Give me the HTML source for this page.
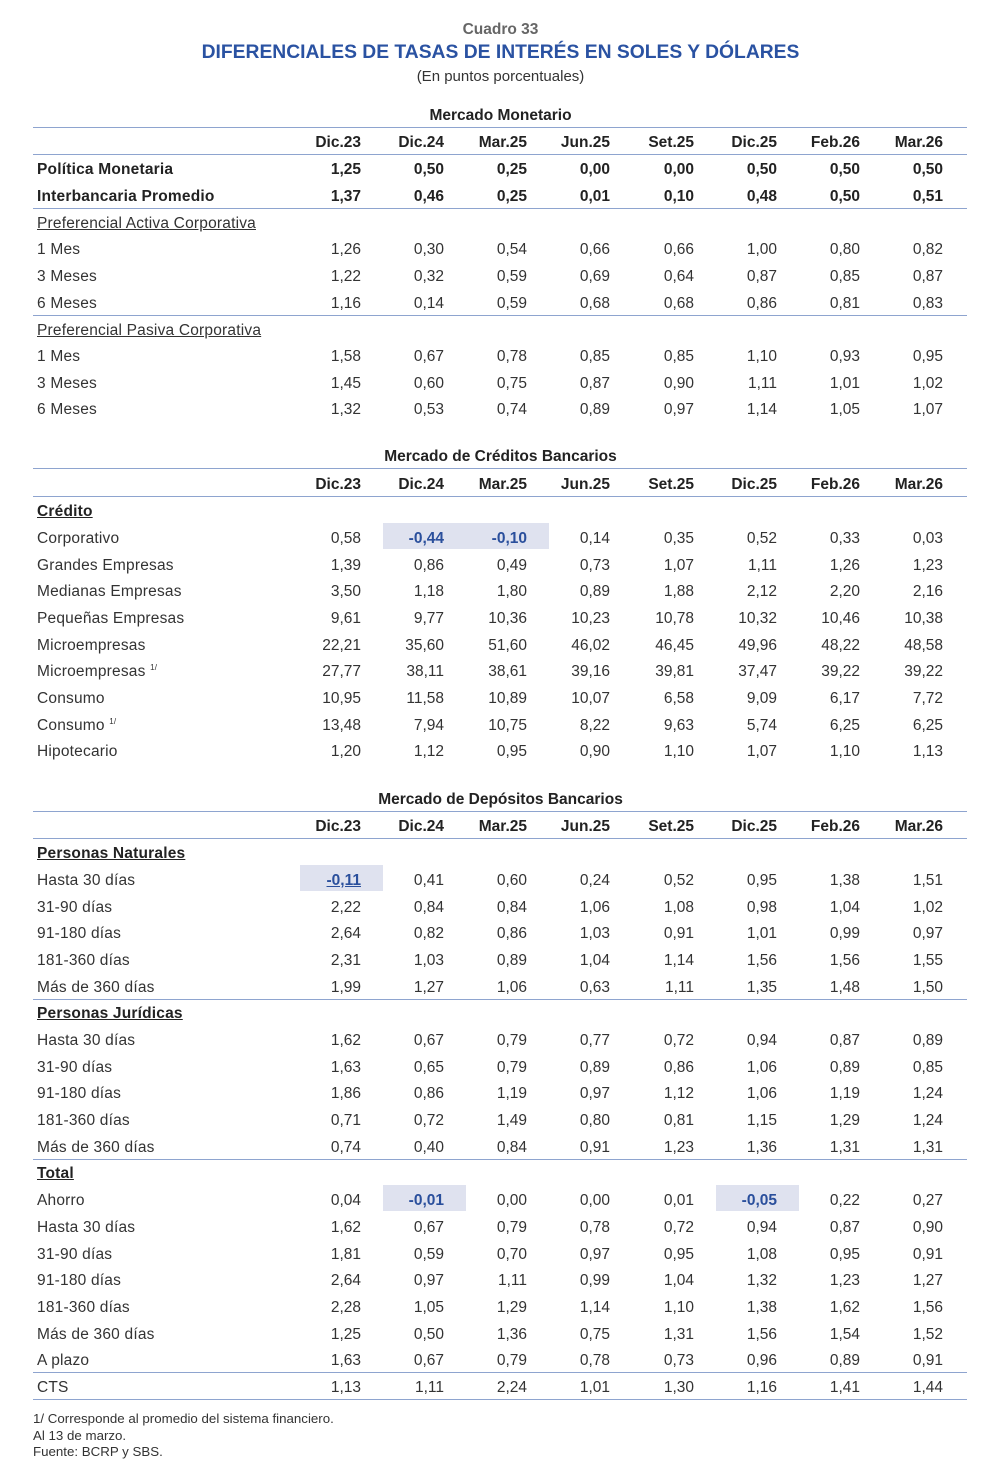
<!DOCTYPE html>
<html><head><meta charset="utf-8"><style>
body{margin:0;background:#fff;width:1001px;height:1484px;position:relative;font-family:"Liberation Sans",sans-serif;color:#333;overflow:hidden}
.t{position:absolute;left:0;width:1001px;text-align:center;margin-top:2px}
.ln{position:absolute;left:33px;width:934px;height:0;border-top:1.3px solid #8ea4cf}
.r{position:absolute;left:33px;width:934px;height:26px;line-height:26px;font-size:15.5px;margin-top:2px}
.r em{position:absolute;left:4px;font-style:normal;white-space:nowrap;letter-spacing:0.2px}
.r span{position:absolute;width:61px;text-align:right;padding-right:22px;height:26px}
.r span:nth-of-type(1){left:267px}.r span:nth-of-type(2){left:350px}.r span:nth-of-type(3){left:433px}.r span:nth-of-type(4){left:516px}
.r span:nth-of-type(5){left:600px}.r span:nth-of-type(6){left:683px}.r span:nth-of-type(7){left:766px}.r span:nth-of-type(8){left:849px}
.r span.h{top:-3px;padding-top:3px;height:23px}
.b{font-weight:bold;color:#222}
.h{background:#dfe2ef;color:#2a4f9c;font-weight:bold}
.u{text-decoration:underline}
sup{font-size:8px;line-height:0;vertical-align:6px}
.f{position:absolute;left:33px;font-size:13.3px;color:#333}
</style></head><body>
<div class="t" style="top:19px;font-size:15.5px;font-weight:bold;color:#666">Cuadro 33</div>
<div class="t" style="top:40px;font-size:19.3px;font-weight:bold;color:#2a52a2">DIFERENCIALES DE TASAS DE INTERÉS EN SOLES Y DÓLARES</div>
<div class="t" style="top:66px;font-size:15px">(En puntos porcentuales)</div>

<div class="t b" style="top:105px;font-size:15.5px">Mercado Monetario</div>
<div class="ln" style="top:127px"></div>
<div class="r b" style="top:128px"><span>Dic.23</span><span>Dic.24</span><span>Mar.25</span><span>Jun.25</span><span>Set.25</span><span>Dic.25</span><span>Feb.26</span><span>Mar.26</span></div>
<div class="ln" style="top:154px"></div>
<div class="r b" style="top:155px"><em>Política Monetaria</em><span>1,25</span><span>0,50</span><span>0,25</span><span>0,00</span><span>0,00</span><span>0,50</span><span>0,50</span><span>0,50</span></div>
<div class="r b" style="top:182px"><em>Interbancaria Promedio</em><span>1,37</span><span>0,46</span><span>0,25</span><span>0,01</span><span>0,10</span><span>0,48</span><span>0,50</span><span>0,51</span></div>
<div class="ln" style="top:208px"></div>
<div class="r" style="top:209px"><em class="u">Preferencial Activa Corporativa</em></div>
<div class="r" style="top:235px"><em>1 Mes</em><span>1,26</span><span>0,30</span><span>0,54</span><span>0,66</span><span>0,66</span><span>1,00</span><span>0,80</span><span>0,82</span></div>
<div class="r" style="top:262px"><em>3 Meses</em><span>1,22</span><span>0,32</span><span>0,59</span><span>0,69</span><span>0,64</span><span>0,87</span><span>0,85</span><span>0,87</span></div>
<div class="r" style="top:289px"><em>6 Meses</em><span>1,16</span><span>0,14</span><span>0,59</span><span>0,68</span><span>0,68</span><span>0,86</span><span>0,81</span><span>0,83</span></div>
<div class="ln" style="top:315px"></div>
<div class="r" style="top:316px"><em class="u">Preferencial Pasiva Corporativa</em></div>
<div class="r" style="top:342px"><em>1 Mes</em><span>1,58</span><span>0,67</span><span>0,78</span><span>0,85</span><span>0,85</span><span>1,10</span><span>0,93</span><span>0,95</span></div>
<div class="r" style="top:369px"><em>3 Meses</em><span>1,45</span><span>0,60</span><span>0,75</span><span>0,87</span><span>0,90</span><span>1,11</span><span>1,01</span><span>1,02</span></div>
<div class="r" style="top:395px"><em>6 Meses</em><span>1,32</span><span>0,53</span><span>0,74</span><span>0,89</span><span>0,97</span><span>1,14</span><span>1,05</span><span>1,07</span></div>

<div class="t b" style="top:446px;font-size:15.5px">Mercado de Créditos Bancarios</div>
<div class="ln" style="top:468px"></div>
<div class="r b" style="top:470px"><span>Dic.23</span><span>Dic.24</span><span>Mar.25</span><span>Jun.25</span><span>Set.25</span><span>Dic.25</span><span>Feb.26</span><span>Mar.26</span></div>
<div class="ln" style="top:496px"></div>
<div class="r b" style="top:497px"><em class="u">Crédito</em></div>
<div class="r" style="top:524px"><em>Corporativo</em><span>0,58</span><span class="h">-0,44</span><span class="h">-0,10</span><span>0,14</span><span>0,35</span><span>0,52</span><span>0,33</span><span>0,03</span></div>
<div class="r" style="top:551px"><em>Grandes Empresas</em><span>1,39</span><span>0,86</span><span>0,49</span><span>0,73</span><span>1,07</span><span>1,11</span><span>1,26</span><span>1,23</span></div>
<div class="r" style="top:577px"><em>Medianas Empresas</em><span>3,50</span><span>1,18</span><span>1,80</span><span>0,89</span><span>1,88</span><span>2,12</span><span>2,20</span><span>2,16</span></div>
<div class="r" style="top:604px"><em>Pequeñas Empresas</em><span>9,61</span><span>9,77</span><span>10,36</span><span>10,23</span><span>10,78</span><span>10,32</span><span>10,46</span><span>10,38</span></div>
<div class="r" style="top:631px"><em>Microempresas</em><span>22,21</span><span>35,60</span><span>51,60</span><span>46,02</span><span>46,45</span><span>49,96</span><span>48,22</span><span>48,58</span></div>
<div class="r" style="top:657px"><em>Microempresas <sup>1/</sup></em><span>27,77</span><span>38,11</span><span>38,61</span><span>39,16</span><span>39,81</span><span>37,47</span><span>39,22</span><span>39,22</span></div>
<div class="r" style="top:684px"><em>Consumo</em><span>10,95</span><span>11,58</span><span>10,89</span><span>10,07</span><span>6,58</span><span>9,09</span><span>6,17</span><span>7,72</span></div>
<div class="r" style="top:711px"><em>Consumo <sup>1/</sup></em><span>13,48</span><span>7,94</span><span>10,75</span><span>8,22</span><span>9,63</span><span>5,74</span><span>6,25</span><span>6,25</span></div>
<div class="r" style="top:737px"><em>Hipotecario</em><span>1,20</span><span>1,12</span><span>0,95</span><span>0,90</span><span>1,10</span><span>1,07</span><span>1,10</span><span>1,13</span></div>

<div class="t b" style="top:789px;font-size:15.5px">Mercado de Depósitos Bancarios</div>
<div class="ln" style="top:811px"></div>
<div class="r b" style="top:812px"><span>Dic.23</span><span>Dic.24</span><span>Mar.25</span><span>Jun.25</span><span>Set.25</span><span>Dic.25</span><span>Feb.26</span><span>Mar.26</span></div>
<div class="ln" style="top:838px"></div>
<div class="r b" style="top:839px"><em class="u">Personas Naturales</em></div>
<div class="r" style="top:866px"><em>Hasta 30 días</em><span class="h u">-0,11</span><span>0,41</span><span>0,60</span><span>0,24</span><span>0,52</span><span>0,95</span><span>1,38</span><span>1,51</span></div>
<div class="r" style="top:893px"><em>31-90 días</em><span>2,22</span><span>0,84</span><span>0,84</span><span>1,06</span><span>1,08</span><span>0,98</span><span>1,04</span><span>1,02</span></div>
<div class="r" style="top:919px"><em>91-180 días</em><span>2,64</span><span>0,82</span><span>0,86</span><span>1,03</span><span>0,91</span><span>1,01</span><span>0,99</span><span>0,97</span></div>
<div class="r" style="top:946px"><em>181-360 días</em><span>2,31</span><span>1,03</span><span>0,89</span><span>1,04</span><span>1,14</span><span>1,56</span><span>1,56</span><span>1,55</span></div>
<div class="r" style="top:973px"><em>Más de 360 días</em><span>1,99</span><span>1,27</span><span>1,06</span><span>0,63</span><span>1,11</span><span>1,35</span><span>1,48</span><span>1,50</span></div>
<div class="ln" style="top:999px"></div>
<div class="r b" style="top:999px"><em class="u">Personas Jurídicas</em></div>
<div class="r" style="top:1026px"><em>Hasta 30 días</em><span>1,62</span><span>0,67</span><span>0,79</span><span>0,77</span><span>0,72</span><span>0,94</span><span>0,87</span><span>0,89</span></div>
<div class="r" style="top:1053px"><em>31-90 días</em><span>1,63</span><span>0,65</span><span>0,79</span><span>0,89</span><span>0,86</span><span>1,06</span><span>0,89</span><span>0,85</span></div>
<div class="r" style="top:1079px"><em>91-180 días</em><span>1,86</span><span>0,86</span><span>1,19</span><span>0,97</span><span>1,12</span><span>1,06</span><span>1,19</span><span>1,24</span></div>
<div class="r" style="top:1106px"><em>181-360 días</em><span>0,71</span><span>0,72</span><span>1,49</span><span>0,80</span><span>0,81</span><span>1,15</span><span>1,29</span><span>1,24</span></div>
<div class="r" style="top:1133px"><em>Más de 360 días</em><span>0,74</span><span>0,40</span><span>0,84</span><span>0,91</span><span>1,23</span><span>1,36</span><span>1,31</span><span>1,31</span></div>
<div class="ln" style="top:1159px"></div>
<div class="r b" style="top:1159px"><em class="u">Total</em></div>
<div class="r" style="top:1186px"><em>Ahorro</em><span>0,04</span><span class="h">-0,01</span><span>0,00</span><span>0,00</span><span>0,01</span><span class="h">-0,05</span><span>0,22</span><span>0,27</span></div>
<div class="r" style="top:1213px"><em>Hasta 30 días</em><span>1,62</span><span>0,67</span><span>0,79</span><span>0,78</span><span>0,72</span><span>0,94</span><span>0,87</span><span>0,90</span></div>
<div class="r" style="top:1240px"><em>31-90 días</em><span>1,81</span><span>0,59</span><span>0,70</span><span>0,97</span><span>0,95</span><span>1,08</span><span>0,95</span><span>0,91</span></div>
<div class="r" style="top:1266px"><em>91-180 días</em><span>2,64</span><span>0,97</span><span>1,11</span><span>0,99</span><span>1,04</span><span>1,32</span><span>1,23</span><span>1,27</span></div>
<div class="r" style="top:1293px"><em>181-360 días</em><span>2,28</span><span>1,05</span><span>1,29</span><span>1,14</span><span>1,10</span><span>1,38</span><span>1,62</span><span>1,56</span></div>
<div class="r" style="top:1320px"><em>Más de 360 días</em><span>1,25</span><span>0,50</span><span>1,36</span><span>0,75</span><span>1,31</span><span>1,56</span><span>1,54</span><span>1,52</span></div>
<div class="r" style="top:1346px"><em>A plazo</em><span>1,63</span><span>0,67</span><span>0,79</span><span>0,78</span><span>0,73</span><span>0,96</span><span>0,89</span><span>0,91</span></div>
<div class="ln" style="top:1372px"></div>
<div class="r" style="top:1373px"><em>CTS</em><span>1,13</span><span>1,11</span><span>2,24</span><span>1,01</span><span>1,30</span><span>1,16</span><span>1,41</span><span>1,44</span></div>
<div class="ln" style="top:1399px"></div>
<div class="f" style="top:1411px">1/ Corresponde al promedio del sistema financiero.</div>
<div class="f" style="top:1428px">Al 13 de marzo.</div>
<div class="f" style="top:1444px">Fuente: BCRP y SBS.</div>
</body></html>
